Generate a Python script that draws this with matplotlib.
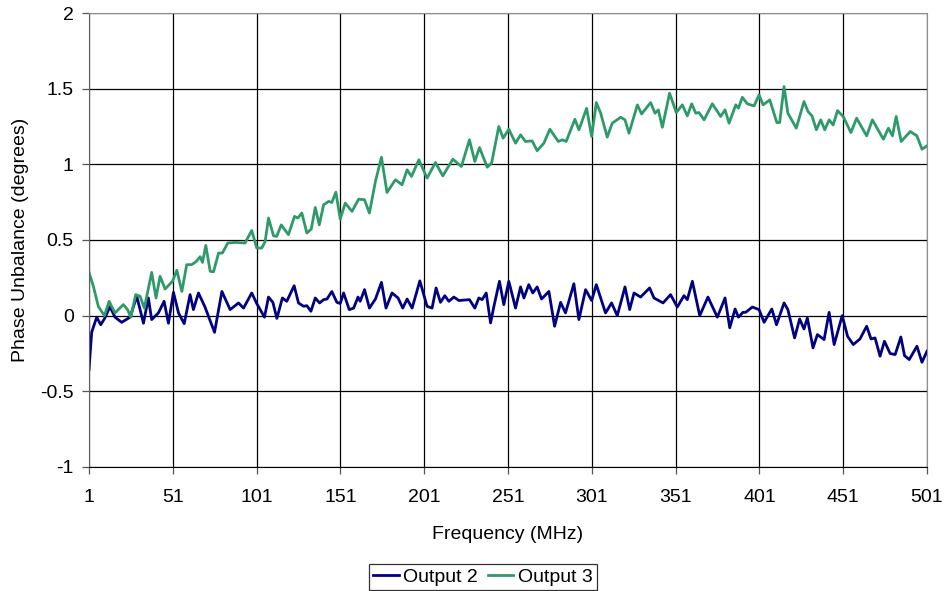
import matplotlib
matplotlib.use("Agg")
import matplotlib.pyplot as plt

plt.rcParams['font.family'] = ['Liberation Sans', 'DejaVu Sans']

# Output 2 (blue): frequency (MHz), phase unbalance (deg)
out2_freq = [1, 2.6, 5.6, 8, 10.5, 13.5, 16.5, 20.5, 25.5, 29.5, 33.5, 36.4, 38.4, 42.4, 45.8,
             48.4, 51.4, 54.4, 57.8, 61.3, 63.3, 66.3, 70.1, 75.9, 80.3, 85.2, 90.2, 93.2,
             98.1, 101.1, 105.7, 108.1, 110.7, 113.1, 116.4, 119, 123.4, 126, 129, 131, 133.4,
             136, 138.6, 141, 143, 145.9, 148.9, 150.9, 152.9, 156.3, 158.9, 161.5, 162.8,
             165.4, 168.3, 171.9, 175.5, 178.2, 181.8, 185.4, 188.2, 190.8, 193.8, 198.4,
             202.7, 205.7, 208.1, 210.7, 213.3, 215.7, 218.7, 221.7, 228, 231.2, 233.6, 235.6,
             238, 240.6, 242.6, 245.9, 248.5, 251.5, 255.5, 258.5, 260.5, 263.4, 265.8, 268.4,
             271, 275.4, 278.8, 282.4, 285.3, 290.3, 293.3, 297.3, 300.9, 303.7, 309.2, 312.8,
             316.2, 320.8, 323.6, 326.2, 330.1, 335.5, 338.1, 343.5, 348, 352, 356, 358, 361,
             365.4, 370.3, 375.9, 380.5, 383.3, 386.5, 388.5, 391.2, 392.8, 396.8, 400.8,
             403.8, 408.4, 411.2, 415.7, 418, 422, 425, 427.6, 429.6, 433, 435.6, 439.6, 442.6,
             445.6, 450.4, 453.6, 457, 461, 465, 467.6, 470, 473, 475.6, 479, 482, 485.4,
             487.6, 490.4, 495, 498, 501]
out2_val = [-0.356, -0.11, -0.01, -0.06, -0.015, 0.06, -0.01, -0.044, -0.01, 0.128, -0.05,
            0.117, -0.026, 0.018, 0.095, -0.05, 0.154, 0.018, -0.053, 0.139, 0.04, 0.15, 0.06,
            -0.11, 0.16, 0.04, 0.084, 0.05, 0.15, 0.08, -0.01, 0.123, 0.088, -0.018, 0.117,
            0.095, 0.198, 0.084, 0.062, 0.066, 0.029, 0.117, 0.084, 0.106, 0.11, 0.16, 0.088,
            0.08, 0.15, 0.04, 0.05, 0.123, 0.095, 0.172, 0.05, 0.11, 0.22, 0.05, 0.15, 0.117,
            0.05, 0.11, 0.05, 0.23, 0.062, 0.05, 0.183, 0.088, 0.132, 0.095, 0.123, 0.10,
            0.106, 0.05, 0.117, 0.106, 0.15, -0.048, 0.062, 0.227, 0.073, 0.227, 0.05, 0.19,
            0.117, 0.205, 0.15, 0.19, 0.11, 0.16, -0.07, 0.088, 0.018, 0.211, -0.026, 0.172,
            0.10, 0.205, 0.018, 0.084, 0.0, 0.19, 0.04, 0.15, 0.123, 0.183, 0.117, 0.084,
            0.139, 0.057, 0.132, 0.106, 0.227, 0.0, 0.123, -0.01, 0.117, -0.08, 0.044, -0.01,
            0.022, 0.022, 0.057, 0.04, -0.044, 0.044, -0.06, 0.084, 0.04, -0.147, -0.022,
            -0.088, -0.015, -0.213, -0.125, -0.158, 0.022, -0.191, 0.0, -0.136, -0.191,
            -0.154, -0.07, -0.154, -0.147, -0.268, -0.169, -0.25, -0.257, -0.141, -0.264,
            -0.29, -0.202, -0.308, -0.235]

# Output 3 (green)
out3_freq = [1, 3.6, 6.6, 10.2, 13, 16.5, 21.5, 24, 25.9, 28.9, 31.5, 34, 38.4, 41, 43.4, 46.4,
             50.8, 53.4, 56.4, 59.3, 62.3, 65.1, 67.3, 68.7, 70.7, 73.3, 75.3, 78.3, 80.6,
             83.8, 88.2, 94.1, 98.1, 101.1, 104.1, 106.1, 108.1, 111.1, 113, 115.7, 120,
             123.6, 125.6, 128, 131, 133.6, 136, 138.4, 141, 144, 145.9, 148.3, 150.9, 153.9,
             157.9, 161.9, 165.4, 168.3, 171.9, 175.5, 178.8, 183.8, 187.8, 190.8, 193.4,
             197.8, 202.7, 207.7, 212.1, 218.1, 223.2, 228, 231.2, 234, 238.6, 241.2, 245.5,
             248.1, 251.5, 255.5, 258.5, 261.4, 265.4, 268.4, 272.4, 276, 281, 283.4, 285.7,
             290.9, 293.3, 297.9, 300.9, 303.7, 306.3, 310.2, 313.2, 318.2, 320.8, 323.2,
             328.2, 330.7, 336.1, 338.7, 340.7, 343.1, 347.4, 351.4, 355, 358, 360.6, 363, 365,
             368, 372.9, 377.9, 380.5, 382.9, 386.9, 388.5, 390.8, 393.8, 397.8, 400.8, 403.2,
             407.2, 411.4, 413.1, 415.7, 418, 423, 427.6, 430, 432.4, 435, 437.6, 440, 442.6,
             445, 447.6, 451, 455.6, 459, 465, 468.4, 475, 478, 480.4, 482.6, 485.6, 491, 495,
             498, 501]
out3_val = [0.286, 0.194, 0.06, 0.0, 0.095, 0.018, 0.073, 0.04, -0.01, 0.139, 0.128, 0.05,
            0.286, 0.117, 0.26, 0.176, 0.227, 0.30, 0.16, 0.337, 0.337, 0.359, 0.39, 0.352,
            0.464, 0.293, 0.29, 0.414, 0.414, 0.48, 0.484, 0.48, 0.563, 0.447, 0.447, 0.49,
            0.645, 0.528, 0.524, 0.60, 0.535, 0.656, 0.645, 0.678, 0.546, 0.572, 0.715, 0.60,
            0.733, 0.755, 0.748, 0.816, 0.638, 0.744, 0.689, 0.77, 0.766, 0.678, 0.887, 1.047,
            0.814, 0.898, 0.865, 0.964, 0.92, 1.03, 0.909, 1.012, 0.924, 1.034, 0.986, 1.162,
            1.019, 1.111, 0.981, 1.008, 1.25, 1.173, 1.232, 1.14, 1.195, 1.151, 1.155, 1.09,
            1.14, 1.232, 1.151, 1.162, 1.151, 1.298, 1.228, 1.37, 1.184, 1.408, 1.338, 1.18,
            1.272, 1.311, 1.294, 1.206, 1.393, 1.333, 1.408, 1.338, 1.36, 1.245, 1.47, 1.342,
            1.393, 1.32, 1.40, 1.338, 1.342, 1.294, 1.40, 1.316, 1.36, 1.272, 1.393, 1.371,
            1.443, 1.40, 1.386, 1.459, 1.393, 1.426, 1.276, 1.276, 1.514, 1.338, 1.239, 1.415,
            1.349, 1.32, 1.228, 1.294, 1.228, 1.294, 1.26, 1.355, 1.316, 1.21, 1.305, 1.188,
            1.294, 1.166, 1.239, 1.188, 1.316, 1.151, 1.217, 1.188, 1.10, 1.122]

x_ticks = [1, 51, 101, 151, 201, 251, 301, 351, 401, 451, 501]
y_ticks = [-1, -0.5, 0, 0.5, 1, 1.5, 2]
y_ticklabels = ['-1', '-0.5', '0', '0.5', '1', '1.5', '2']

fig = plt.figure(figsize=(9.45, 5.91), dpi=100)
ax = fig.add_axes([89 / 945, 1 - 467 / 591, (927 - 89) / 945, (467 - 13) / 591])

ax.plot(out2_freq, out2_val, color='#000080', lw=2.0, label='Output 2')
ax.plot(out3_freq, out3_val, color='#2e9a6a', lw=2.0, label='Output 3')

ax.set_xlim(1, 501)
ax.set_ylim(-1, 2)
ax.set_xticks(x_ticks)
ax.set_yticks(y_ticks)
ax.set_yticklabels(y_ticklabels)
ax.grid(True, color='black', lw=0.9)
ax.set_axisbelow(True)
ax.tick_params(labelsize=14, direction='out', length=5, width=0.9, color='#555555')
ax.tick_params(axis='x', pad=11)
ax.tick_params(axis='y', pad=6)
for side in ['top', 'right']:
    ax.spines[side].set_color('#909090')
ax.spines['left'].set_color('#606060')
ax.spines['bottom'].set_color('black')

ax.set_xlabel('Frequency (MHz)', fontsize=14, labelpad=14)
ax.set_ylabel('Phase Unbalance (degrees)', fontsize=14, labelpad=8)

leg = fig.legend(loc='center', bbox_to_anchor=(483 / 945, 1 - 577 / 591), ncol=2,
                 fontsize=14, frameon=True, fancybox=False, handlelength=1.3,
                 handletextpad=0.25, columnspacing=0.5, borderpad=0.2, borderaxespad=0)
leg.get_frame().set_edgecolor('black')
leg.get_frame().set_linewidth(0.9)

fig.savefig('out.png', dpi=100)
